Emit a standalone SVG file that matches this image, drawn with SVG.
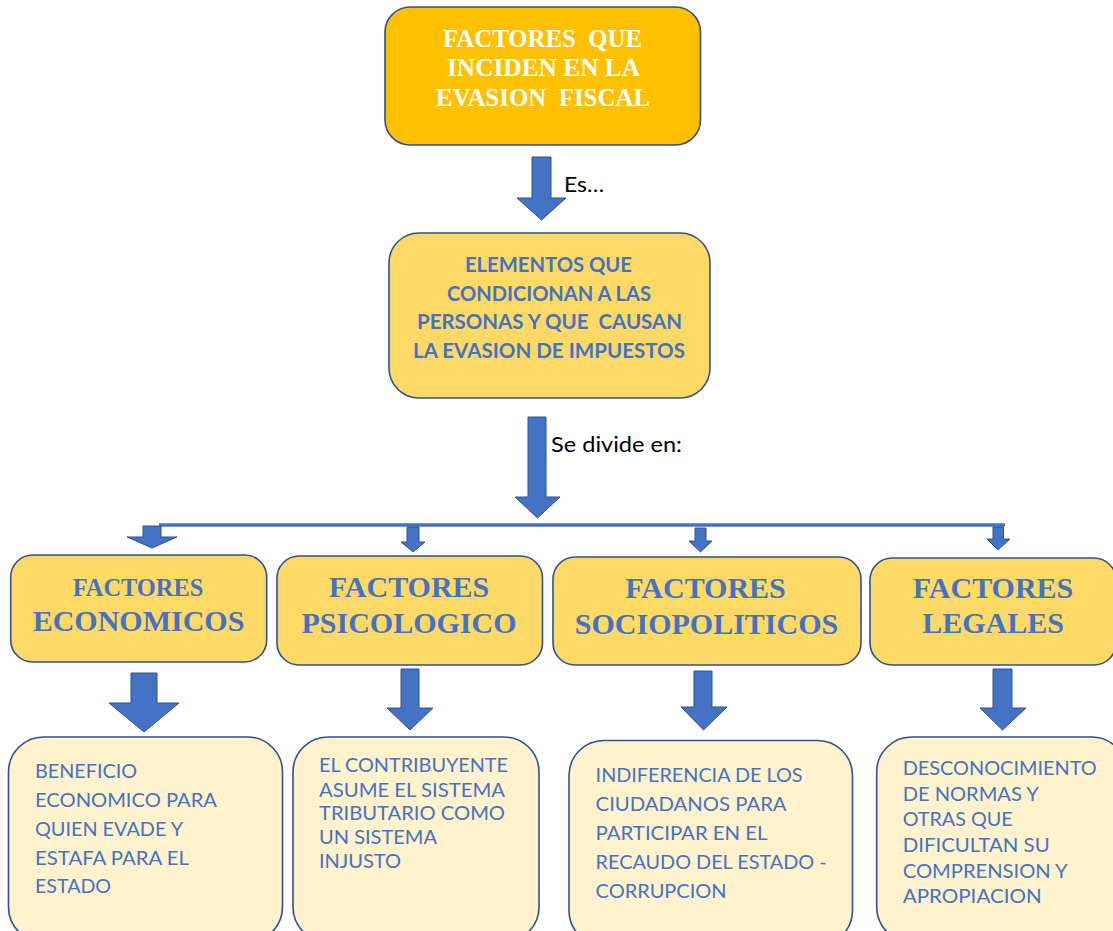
<svg xmlns="http://www.w3.org/2000/svg" width="1113" height="931" viewBox="0 0 1113 931">
<style>
.box{stroke:#2F528F;stroke-width:1.6}
.top{fill:#FFC000}
.mid{fill:#FFD966}
.low{fill:#FFF2CC}
.arrow{fill:#4472C4;stroke:#2F528F;stroke-width:1}
.ttl{font-family:"Liberation Serif","Times New Roman",serif;font-weight:bold;fill:#FFFFFF;font-size:25px}
.hd{font-family:"Liberation Serif","Times New Roman",serif;font-weight:bold;fill:#4472C4;font-size:30px;text-anchor:middle}
.el{font-family:Lato,"Liberation Sans",sans-serif;font-weight:bold;fill:#4472C4;font-size:20px}
.lbl{font-family:Lato,"Liberation Sans",sans-serif;fill:#000000;font-size:21px}
.bt{font-family:Lato,"Liberation Sans",sans-serif;fill:#4472C4;font-size:20px}
.bts{font-family:Lato,"Liberation Sans",sans-serif;fill:#4472C4;font-size:18.5px}
</style>
<rect width="1113" height="931" fill="#FFFFFF"/>
<g id="connectors">
<polygon class="arrow" points="532,157 551,157 551,198 566,198 541.5,220 517,198 532,198"/>
<text class="lbl" x="564" y="192" textLength="40" lengthAdjust="spacingAndGlyphs">Es…</text>
<polygon class="arrow" points="528,417 546,417 546,497 560,497 537.5,518 515,497 528,497"/>
<text class="lbl" x="551" y="452" textLength="131" lengthAdjust="spacingAndGlyphs">Se divide en:</text>
<line x1="159" y1="525" x2="1005" y2="525" stroke="#4472C4" stroke-width="3.5"/>
<polygon class="arrow" points="143,526 161,526 161,537 177,537 152,548 127,537 143,537"/>
<polygon class="arrow" points="407,527 419,527 419,542 425,542 413,552 401,542 407,542"/>
<polygon class="arrow" points="695,528 706,528 706,541 712,541 700.5,552 689,541 695,541"/>
<polygon class="arrow" points="993,527 1003.5,527 1003.5,539 1010,539 998,550 987,539 993,539"/>
<polygon class="arrow" points="131,673 157,673 157,703 179,703 144,732 109,703 131,703"/>
<polygon class="arrow" points="401,669 419,669 419,708 433,708 410,730 387,708 401,708"/>
<polygon class="arrow" points="694,671 712,671 712,707 727,707 703.5,730 681,707 694,707"/>
<polygon class="arrow" points="993,669 1012,669 1012,708 1026,708 1002.5,730 980,708 993,708"/>
</g>
<g id="node-factores">
<rect class="box top" x="385" y="7" width="315.5" height="138" rx="25"/>
<text class="ttl" x="443" y="46.5" textLength="199" lengthAdjust="spacingAndGlyphs">FACTORES&#160; QUE</text>
<text class="ttl" x="447" y="76" textLength="193" lengthAdjust="spacingAndGlyphs">INCIDEN EN LA</text>
<text class="ttl" x="436" y="106" textLength="214" lengthAdjust="spacingAndGlyphs">EVASION&#160; FISCAL</text>
</g>
<g id="node-elementos">
<rect class="box mid" x="389" y="233" width="321" height="165" rx="30"/>
<text class="el" x="465" y="272" textLength="167" lengthAdjust="spacingAndGlyphs">ELEMENTOS QUE</text>
<text class="el" x="447" y="301" textLength="204" lengthAdjust="spacingAndGlyphs">CONDICIONAN A LAS</text>
<text class="el" x="417" y="329" textLength="265" lengthAdjust="spacingAndGlyphs">PERSONAS Y QUE&#160; CAUSAN</text>
<text class="el" x="413" y="358" textLength="272" lengthAdjust="spacingAndGlyphs">LA EVASION DE IMPUESTOS</text>
</g>
<g id="node-economicos">
<rect class="box mid" x="10.7" y="555" width="256" height="107" rx="22"/>
<text class="hd" x="138" y="596" style="font-size:24.4px">FACTORES</text>
<text class="hd" x="138.5" y="631">ECONOMICOS</text>
</g>
<g id="node-psicologico">
<rect class="box mid" x="277" y="556" width="265.5" height="109" rx="22"/>
<text class="hd" x="409" y="597">FACTORES</text>
<text class="hd" x="409" y="633">PSICOLOGICO</text>
</g>
<g id="node-sociopoliticos">
<rect class="box mid" x="553" y="557" width="308" height="108" rx="22"/>
<text class="hd" x="705.5" y="598">FACTORES</text>
<text class="hd" x="706.5" y="634">SOCIOPOLITICOS</text>
</g>
<g id="node-legales">
<rect class="box mid" x="870" y="558" width="246" height="107" rx="22"/>
<text class="hd" x="993" y="598">FACTORES</text>
<text class="hd" x="993" y="633">LEGALES</text>
</g>
<g id="node-beneficio">
<rect class="box low" x="8.5" y="737" width="274" height="205" rx="35"/>
<text class="bt" x="35" y="778" textLength="102" lengthAdjust="spacingAndGlyphs">BENEFICIO</text>
<text class="bt" x="35" y="807" textLength="182" lengthAdjust="spacingAndGlyphs">ECONOMICO PARA</text>
<text class="bt" x="35" y="836" textLength="148" lengthAdjust="spacingAndGlyphs">QUIEN EVADE Y</text>
<text class="bt" x="35" y="865" textLength="154" lengthAdjust="spacingAndGlyphs">ESTAFA PARA EL</text>
<text class="bt" x="35" y="893" textLength="76" lengthAdjust="spacingAndGlyphs">ESTADO</text>
</g>
<g id="node-contribuyente">
<rect class="box low" x="293" y="737" width="246" height="205" rx="35"/>
<text class="bts" x="319" y="772" textLength="189" lengthAdjust="spacingAndGlyphs">EL CONTRIBUYENTE</text>
<text class="bts" x="319" y="796.5" textLength="186" lengthAdjust="spacingAndGlyphs">ASUME EL SISTEMA</text>
<text class="bts" x="319" y="819.5" textLength="186" lengthAdjust="spacingAndGlyphs">TRIBUTARIO COMO</text>
<text class="bts" x="319" y="844" textLength="118" lengthAdjust="spacingAndGlyphs">UN SISTEMA</text>
<text class="bts" x="319" y="868" textLength="82" lengthAdjust="spacingAndGlyphs">INJUSTO</text>
</g>
<g id="node-indiferencia">
<rect class="box low" x="569" y="740.5" width="283.5" height="205" rx="35"/>
<text class="bt" x="595.6" y="781.7" textLength="207" lengthAdjust="spacingAndGlyphs">INDIFERENCIA DE LOS</text>
<text class="bt" x="595.6" y="810.7" textLength="191" lengthAdjust="spacingAndGlyphs">CIUDADANOS PARA</text>
<text class="bt" x="595.6" y="840" textLength="172" lengthAdjust="spacingAndGlyphs">PARTICIPAR EN EL</text>
<text class="bt" x="595.6" y="869.3" textLength="231" lengthAdjust="spacingAndGlyphs">RECAUDO DEL ESTADO -</text>
<text class="bt" x="595.6" y="898.3" textLength="131" lengthAdjust="spacingAndGlyphs">CORRUPCION</text>
</g>
<g id="node-desconocimiento">
<rect class="box low" x="876.7" y="737" width="250" height="205" rx="35"/>
<text class="bt" x="902.7" y="775" textLength="194" lengthAdjust="spacingAndGlyphs">DESCONOCIMIENTO</text>
<text class="bt" x="902.7" y="800.7" textLength="136" lengthAdjust="spacingAndGlyphs">DE NORMAS Y</text>
<text class="bt" x="902.7" y="825.7" textLength="110" lengthAdjust="spacingAndGlyphs">OTRAS QUE</text>
<text class="bt" x="902.7" y="851.7" textLength="147" lengthAdjust="spacingAndGlyphs">DIFICULTAN SU</text>
<text class="bt" x="902.7" y="877.7" textLength="165" lengthAdjust="spacingAndGlyphs">COMPRENSION Y</text>
<text class="bt" x="902.7" y="903.3" textLength="139" lengthAdjust="spacingAndGlyphs">APROPIACION</text>
</g>
</svg>
